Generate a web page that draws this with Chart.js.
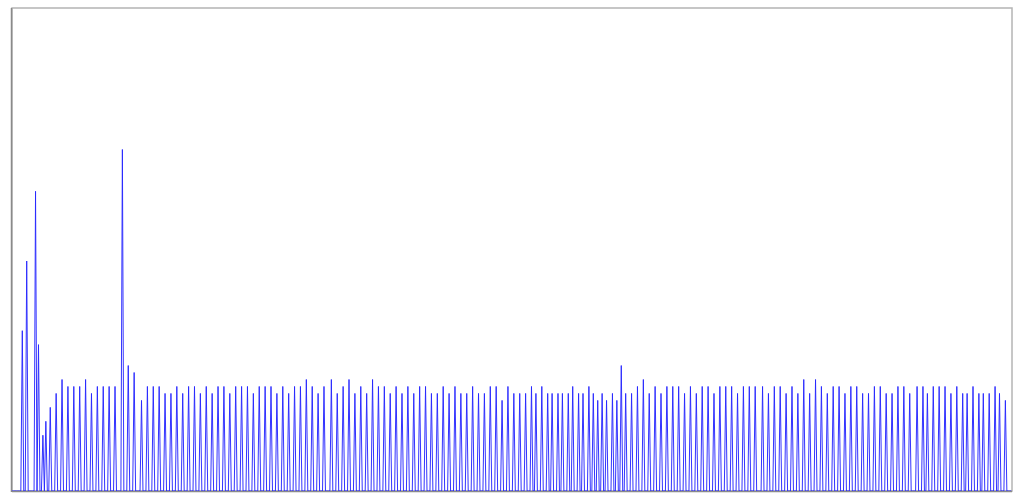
<!DOCTYPE html>
<html>
<head>
<meta charset="utf-8">
<script src="https://cdn.jsdelivr.net/npm/chart.js@4/dist/chart.umd.min.js"></script>
<style>
  html, body { margin: 0; padding: 0; background: #ffffff; }
  #wrap { width: 1024px; height: 500px; }
</style>
</head>
<body>
<div id="wrap"><canvas id="c" width="1024" height="500"></canvas></div>
<script>
// Sample index of each spike (x axis, sample number)
const spikeIdx = [
  7,10,16,18,21,23,26,30,34,38,42,46,50,54,58,62,66,70,75,79,83,88,92,96,100,
  104,108,112,116,120,124,128,132,136,140,144,148,152,156,160,164,168,172,176,180,184,188,192,
  196,200,204,208,212,217,221,225,229,233,237,241,245,249,253,257,261,265,269,273,277,281,285,289,293,297,
  301,305,309,313,317,321,325,329,333,337,341,345,349,353,356,360,364,367,371,374,378,381,385,388,392,395,398,
  401,404,408,411,414,417,421,425,429,433,437,441,445,449,453,457,461,465,469,473,477,481,485,489,493,497,
  501,505,510,514,518,522,526,530,534,538,542,546,550,554,558,562,566,570,574,578,582,586,590,594,
  598,602,606,610,615,619,622,626,630,634,638,642,646,649,653,657,660,664,668,671,675
];
// Value of each spike
const spikeVal = [
  23,33,43,21,8,10,12,14,16,15,15,15,16,14,15,15,15,15,49,18,17,13,15,15,15,
  14,14,15,14,15,15,14,15,14,15,15,14,15,15,15,14,15,15,15,14,15,14,15,
  15,16,15,14,15,16,14,15,16,14,15,14,16,15,15,14,15,14,15,14,15,15,14,14,15,14,
  15,14,14,15,14,14,15,15,13,15,14,14,14,15,14,15,14,14,14,14,14,15,14,14,15,14,13,
  14,13,14,13,18,14,14,15,16,14,15,14,15,15,15,14,15,14,15,15,14,15,15,15,14,15,
  15,15,15,14,15,15,14,15,14,16,14,16,15,14,15,15,14,15,15,14,14,15,15,14,
  14,15,15,14,15,15,14,15,15,15,14,15,14,14,15,14,14,14,15,14,13
];
const sampleCount = 680;   // samples 0..679, zero where there is no spike
const yMax = 69.3;

// build the full series: every sample is 0 except the spike samples
const valueAt = new Map();
for (let i = 0; i < Math.min(spikeIdx.length, spikeVal.length); i++) valueAt.set(spikeIdx[i], spikeVal[i]);
const series = [];
for (let s = 0; s < sampleCount; s++) series.push({ x: s, y: valueAt.has(s) ? valueAt.get(s) : 0 });

const frame = {
  id: 'frame',
  beforeDatasetsDraw(chart) {
    const { ctx, chartArea: a } = chart;
    ctx.save();
    ctx.lineWidth = 1.5;
    ctx.strokeStyle = '#b4b4b4';
    ctx.strokeRect(a.left, a.top, a.right - a.left, a.bottom - a.top);
    ctx.strokeStyle = '#8a8a8a';
    ctx.beginPath();
    ctx.moveTo(a.left - 0.5, a.top);
    ctx.lineTo(a.left - 0.5, a.bottom + 1);
    ctx.moveTo(a.left, a.bottom + 0.5);
    ctx.lineTo(a.right, a.bottom + 0.5);
    ctx.stroke();
    ctx.restore();
  }
};

new Chart(document.getElementById('c'), {
  type: 'line',
  data: {
    datasets: [{
      data: series,
      borderColor: 'rgba(40,40,255,0.95)',
      borderWidth: 1,
      pointRadius: 0,
      tension: 0,
      fill: false
    }]
  },
  options: {
    responsive: false,
    animation: false,
    layout: { padding: { left: 12, top: 8, right: 12, bottom: 9 } },
    plugins: { legend: { display: false }, tooltip: { enabled: false } },
    scales: {
      x: {
        type: 'linear', min: 0, max: 679.5,
        afterFit(s) { s.height = 0; },
        ticks: { display: false }, grid: { display: false }, border: { display: false }
      },
      y: {
        min: 0, max: yMax,
        afterFit(s) { s.width = 0; },
        ticks: { display: false }, grid: { display: false }, border: { display: false }
      }
    }
  },
  plugins: [frame]
});
</script>
</body>
</html>
